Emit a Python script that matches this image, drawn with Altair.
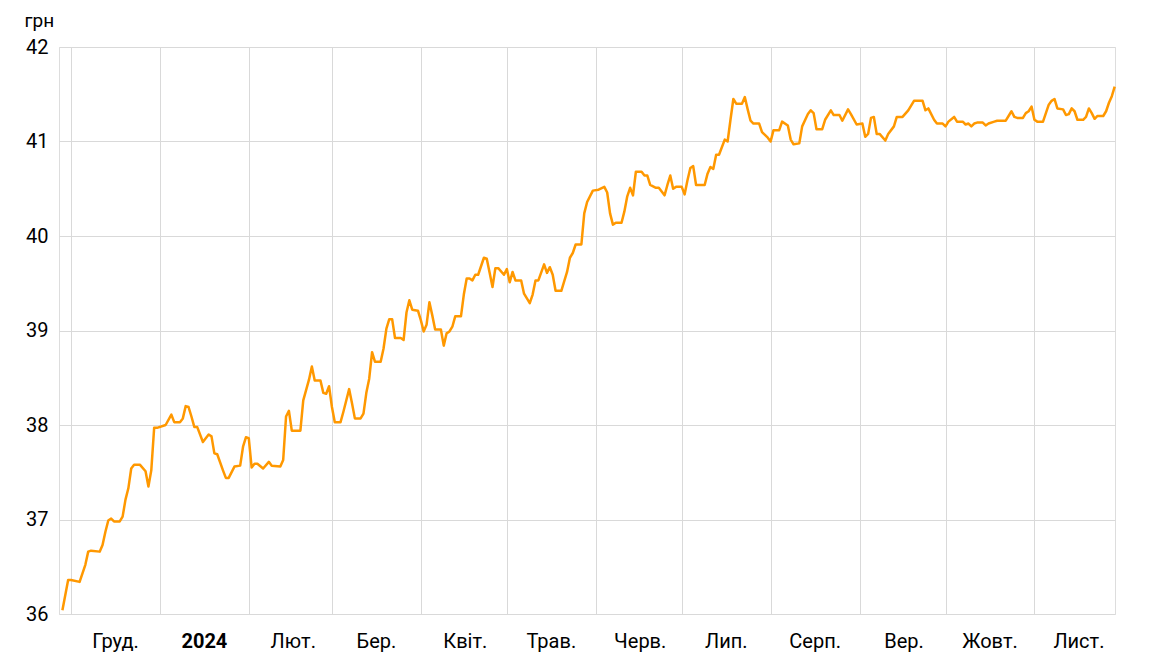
import altair as alt
import pandas as pd

# Days since 2023-12-01 and rate (UAH)
day_offsets = [
    -3, -1, 0, 3, 4, 5, 6, 7, 10, 11, 12, 13, 14, 15, 17, 18, 19, 20, 21, 22, 24, 26, 27, 28, 29, 30,
    33, 35, 36, 38, 39, 40, 41, 42, 43, 44, 46, 48, 49, 50, 51, 53, 54, 55, 57, 59, 60, 61, 62, 63,
    64, 65, 67, 69, 70, 73, 74, 75, 76, 77, 80, 81, 83, 84, 85, 87, 88, 89, 90, 91, 92, 94, 95, 97,
    98, 99, 101, 102, 103, 104, 105, 106, 108, 109, 110, 111, 112, 113, 115, 116, 117, 118, 119, 121,
    122, 123, 124, 125, 126, 127, 129, 130, 131, 132, 133, 134, 136, 137, 138, 139, 140, 141, 142, 144,
    145, 146, 147, 148, 149, 151, 152, 153, 154, 155, 157, 158, 159, 160, 161, 162, 163, 165, 166, 167,
    168, 169, 171, 173, 174, 175, 176, 178, 179, 180, 182, 184, 186, 187, 188, 189, 190, 192, 193, 194,
    195, 196, 197, 199, 200, 201, 202, 204, 205, 207, 208, 209, 210, 211, 213, 214, 215, 216, 217, 218,
    221, 222, 223, 224, 225, 226, 228, 229, 230, 231, 232, 234, 235, 236, 237, 238, 240, 241, 243, 244,
    245, 247, 248, 250, 251, 252, 254, 255, 257, 258, 259, 260, 262, 263, 265, 266, 268, 269, 271, 272,
    274, 276, 277, 278, 279, 280, 281, 282, 284, 285, 287, 288, 290, 292, 294, 297, 298, 299, 301, 302,
    304, 305, 306, 308, 309, 311, 312, 313, 314, 315, 316, 318, 319, 320, 322, 323, 326, 328, 329, 330,
    332, 333, 334, 335, 336, 337, 339, 340, 341, 342, 343, 344, 346, 347, 348, 349, 350, 351, 353, 354,
    355, 356, 357, 358, 360, 361, 362, 363, 364,
]
rates = [
    36.04, 36.36, 36.36, 36.34, 36.43, 36.52, 36.66, 36.67, 36.66, 36.73, 36.87, 36.99, 37.01, 36.98, 36.98, 37.03, 37.21, 37.33, 37.54, 37.58, 37.58, 37.51, 37.35, 37.52, 37.97, 37.97,
    38.00, 38.11, 38.03, 38.03, 38.07, 38.20, 38.19, 38.09, 37.98, 37.98, 37.82, 37.90, 37.88, 37.70, 37.69, 37.52, 37.44, 37.44, 37.56, 37.57, 37.77, 37.87, 37.86, 37.55,
    37.59, 37.59, 37.54, 37.61, 37.57, 37.56, 37.63, 38.09, 38.15, 37.94, 37.94, 38.26, 38.48, 38.62, 38.47, 38.47, 38.34, 38.33, 38.41, 38.19, 38.03, 38.03, 38.14, 38.38,
    38.23, 38.07, 38.07, 38.12, 38.34, 38.49, 38.77, 38.67, 38.67, 38.81, 39.02, 39.12, 39.12, 38.92, 38.92, 38.90, 39.19, 39.32, 39.22, 39.21,
    39.11, 38.99, 39.06, 39.30, 39.16, 39.01, 39.01, 38.84, 38.97, 38.99, 39.04, 39.15, 39.15, 39.38, 39.55, 39.55, 39.53, 39.59, 39.59, 39.77,
    39.76, 39.61, 39.46, 39.66, 39.66, 39.59, 39.65, 39.51, 39.62, 39.53, 39.53, 39.39, 39.34, 39.29, 39.38, 39.53, 39.53, 39.70, 39.61, 39.67,
    39.59, 39.42, 39.42, 39.62, 39.77, 39.82, 39.91, 39.91, 40.24, 40.36, 40.48, 40.49, 40.52, 40.46, 40.24, 40.12, 40.14, 40.14, 40.26, 40.42,
    40.51, 40.43, 40.68, 40.68, 40.64, 40.64, 40.54, 40.51, 40.51, 40.43, 40.54, 40.64, 40.50, 40.52, 40.52, 40.44, 40.59, 40.72, 40.74, 40.54,
    40.54, 40.66, 40.73, 40.71, 40.86, 40.86, 41.02, 41.00, 41.23, 41.45, 41.40, 41.40, 41.47, 41.34, 41.22, 41.19, 41.19, 41.10, 41.04, 41.00,
    41.12, 41.12, 41.21, 41.17, 41.02, 40.97, 40.98, 41.16, 41.29, 41.33, 41.30, 41.13, 41.13, 41.23, 41.33, 41.28, 41.28, 41.22, 41.34, 41.29,
    41.18, 41.19, 41.05, 41.08, 41.25, 41.26, 41.08, 41.08, 41.01, 41.08, 41.16, 41.26, 41.26, 41.33, 41.43, 41.43, 41.33, 41.35, 41.23, 41.19,
    41.19, 41.16, 41.21, 41.26, 41.21, 41.21, 41.18, 41.19, 41.16, 41.19, 41.20, 41.20, 41.17, 41.19, 41.21, 41.22, 41.22, 41.32, 41.26, 41.25,
    41.25, 41.30, 41.32, 41.37, 41.23, 41.21, 41.21, 41.30, 41.39, 41.43, 41.45, 41.35, 41.34, 41.28, 41.29, 41.35, 41.32, 41.23, 41.23, 41.26,
    41.35, 41.30, 41.24, 41.27, 41.27, 41.32, 41.41, 41.48, 41.58,
]

month_names = ["Січ.", "Лют.", "Бер.", "Квіт.", "Трав.", "Черв.", "Лип.",
               "Серп.", "Вер.", "Жовт.", "Лист.", "Груд."]
y_ticks = [36, 37, 38, 39, 40, 41, 42]

base = pd.Timestamp("2023-12-01")
df = pd.DataFrame({
    "date": base + pd.to_timedelta(day_offsets, unit="D"),
    "rate": rates,
})

month_ticks = [alt.DateTime(year=2023, month=12, date=1)] + [
    alt.DateTime(year=2024, month=m, date=1) for m in range(1, 12)
]

names_js = "[" + ",".join("'" + n + "'" for n in month_names) + "]"
label_expr = "month(datum.value) == 0 ? '2024' : " + names_js + "[month(datum.value)]"

grid_color = "#d9d9d9"
FS = 20

chart = alt.Chart(df).mark_line(
    color="#ff9800", strokeWidth=2.5, strokeJoin="round"
).encode(
    x=alt.X(
        "date:T",
        scale=alt.Scale(domain=[
            alt.DateTime(year=2023, month=11, date=26, hours=19, minutes=30),
            alt.DateTime(year=2024, month=11, date=29, hours=2, minutes=30),
        ]),
        axis=alt.Axis(
            values=month_ticks,
            labelExpr=label_expr,
            labelOffset=44,
            labelFontWeight={"condition": {"test": "month(datum.value) == 0", "value": "bold"}, "value": "normal"},
            grid=True, gridColor=grid_color, gridWidth=1,
            ticks=False, tickSize=0, domain=False,
            labelPadding=17, labelFontSize=FS, labelColor="#000000",
            labelFont="Roboto", title=None,
        ),
    ),
    y=alt.Y(
        "rate:Q",
        scale=alt.Scale(domain=[36, 42], nice=False, zero=False),
        axis=alt.Axis(
            values=y_ticks,
            grid=True, gridColor=grid_color, gridWidth=1,
            ticks=False, tickSize=0, domain=False,
            labelPadding=11, labelFontSize=FS, labelColor="#000000",
            labelFont="Roboto",
            title="грн", titleAngle=0, titleAlign="left", titleBaseline="alphabetic",
            titleX=-35, titleY=-21, titleFontSize=19, titleFontWeight="normal",
            titleFont="Roboto", titleColor="#000000",
        ),
    ),
).properties(
    width=1056,
    height=567,
    autosize=alt.AutoSizeParams(type="none"),
    padding={"left": 51, "top": 39, "right": 30, "bottom": 50},
).configure_view(stroke=None).configure(font="Roboto")

chart.save("out.html", embed_options={"renderer": "svg", "actions": False})
